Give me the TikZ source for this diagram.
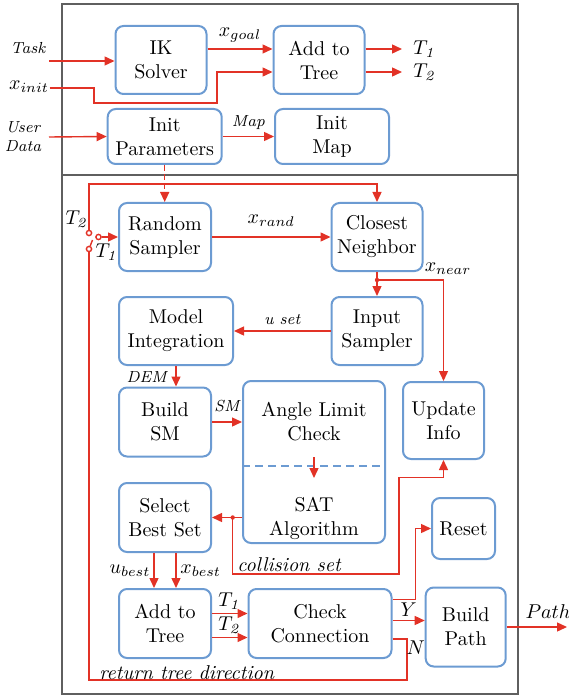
\documentclass[tikz,border=0pt]{standalone}
\usepackage{tikz}
\usetikzlibrary{arrows.meta,positioning}
\definecolor{redline}{RGB}{226,50,38}
\definecolor{boxline}{RGB}{108,155,210}
\definecolor{framegray}{RGB}{95,95,95}
\tikzstyle{block} = [draw=boxline, line width=1pt, rounded corners=4pt, align=center, inner sep=1pt]
\tikzstyle{part} = [rectangle, draw=framegray, line width=0.8pt, minimum width=228pt]
\tikzstyle{wire} = [draw=redline, line width=0.7pt]
\tikzstyle{flow} = [wire, -{Triangle[length=5pt,width=4.5pt]}]
\tikzstyle{tag} = [inner sep=0pt, font=\footnotesize\itshape]
\tikzstyle{lbl} = [inner sep=0pt]
\tikzstyle{contact} = [circle, draw=redline, line width=0.7pt, fill=white, inner sep=0pt, minimum size=2.6pt]

\begin{document}
\begin{tikzpicture}[x=0.5pt,y=-0.5pt]
\useasboundingbox (0,0) rectangle (568,695);
\node[part, minimum height=85.5pt] (initpart) at (290,89.5) {};
\node[part, minimum height=259.5pt] (looppart) at (290,434.5) {};

% initialisation
\node[block, minimum width=45.5pt, minimum height=34pt] (ik) at (161,60) {IK\\Solver};
\node[block, minimum width=45.5pt, minimum height=34pt] (addinit) at (319,60) {Add to\\Tree};
\node[block, minimum width=57pt, minimum height=27.5pt] (initpar) at (164.7,136.5) {Init\\Parameters};
\node[block, minimum width=57pt, minimum height=27.5pt] (initmap) at (332,136.5) {Init\\Map};

\node[tag] (task) at (28,48) {Task};
\coordinate (taskin) at (49,61);
\draw[flow] (taskin) -- (ik.west |- taskin);
\node[lbl] (xinit) at (29,87) {$x_{init}$};
\coordinate (xinitin) at (49.6,88);
\coordinate (xinitA) at (94,103);
\coordinate (xinitB) at (217,72);
\draw[flow] (xinitin) -| (xinitA) -| (xinitB) -- (addinit.west |- xinitB);
\node[tag, align=center] (userdata) at (23,137) {User\\Data};
\coordinate (userin) at (49,137);
\draw[flow] (userin) -- (initpar.west);

\draw[flow] ([yshift=5.5pt]ik.east) -- ([yshift=5.5pt]addinit.west) node[lbl, midway, above=3pt] (xgoal) {$x_{goal}$};
\coordinate (tendone) at (402,49);
\coordinate (tendtwo) at (402,72);
\node[lbl, right=5.5pt of tendone] (toutone) {$T_{\mathit{1}}$};
\node[lbl, right=5.5pt of tendtwo] (touttwo) {$T_{\mathit{2}}$};
\draw[flow] ([yshift=5.5pt]addinit.east) -- (tendone);
\draw[flow] ([yshift=-6pt]addinit.east) -- (tendtwo);
\draw[flow] (initpar.east) -- (initmap.west) node[tag, midway, above=3pt] (maplbl) {Map};

% planning loop
\node[block, minimum width=46pt, minimum height=34pt] (rand) at (165,237) {Random\\Sampler};
\node[block, minimum width=45.5pt, minimum height=34pt] (closest) at (377,237) {Closest\\Neighbor};
\node[block, minimum width=57pt, minimum height=34pt] (model) at (176,331) {Model\\Integration};
\node[block, minimum width=45.5pt, minimum height=34pt] (input) at (377,331) {Input\\Sampler};
\node[block, minimum width=46pt, minimum height=34.5pt] (buildsm) at (165,422) {Build\\SM};
\node[block, minimum width=71pt, minimum height=81pt] (satbox) at (314,462) {};
\node[align=center] (anglelim) at (314,422) {Angle Limit\\Check};
\node[align=center] (satalg) at (314,518) {SAT\\Algorithm};
\node[block, minimum width=40.5pt, minimum height=38.5pt] (update) at (443.5,420.5) {Update\\Info};
\node[block, minimum width=46pt, minimum height=34.5pt] (select) at (165,517.5) {Select\\Best Set};
\node[block, minimum width=31.5pt, minimum height=30.5pt] (reset) at (463.5,528.5) {Reset};
\node[block, minimum width=46pt, minimum height=34.5pt] (addtree) at (165,623.5) {Add to\\Tree};
\node[block, minimum width=71.5pt, minimum height=34.5pt] (conn) at (320,623.5) {Check\\Connection};
\node[block, minimum width=40pt, minimum height=39.5pt] (buildpath) at (465.7,627) {Build\\Path};

\coordinate (dashy) at (314,466);
\draw[draw=boxline, line width=0.8pt, dash pattern=on 4pt off 2.5pt] (satbox.west |- dashy) -- (satbox.east |- dashy);
\coordinate (chkout) at (314,457);
\coordinate (satin) at (314,478);
\draw[flow] (chkout) -- (satin);

\draw[flow, dash pattern=on 3pt off 1.5pt] (initpar.south) -- (initpar.south |- rand.north);

% tree switch
\node[contact] (swtwo) at (89,233) {};
\node[contact] (swone) at (98.5,237) {};
\node[contact] (swpivot) at (89,249) {};
\coordinate (blade) at (92.5,240);
\draw[wire] (swpivot) -- (blade);
\node[lbl] (swlbltwo) at (77,219) {$T_{\mathit{2}}$};
\node[lbl] (swlblone) at (107,252) {$T_{\mathit{1}}$};
\draw[flow] (swone) -- (rand.west);
\coordinate (looptop) at (89,184);
\draw[flow] (swtwo) -- (looptop) -| (closest.north);

\draw[flow] (rand.east) -- (closest.west) node[lbl, midway, above=5pt] (xrand) {$x_{rand}$};
\draw[flow] (closest.south) -- (input.north);
\coordinate (nearpt) at (377,280);
\fill[redline] (nearpt) circle (1.1pt);
\draw[flow] (nearpt) -| (update.north);
\node[lbl] (xnear) at (448,269) {$x_{near}$};

\draw[flow] (input.west) -- (model.east) node[tag, midway, above=3pt] (uset) {u set};
\draw[flow] (model.south) -- (model.south |- buildsm.north);
\node[tag] (dem) at (146.7,376.7) {DEM};
\draw[flow] (buildsm.east) -- (satbox.west |- buildsm.east) node[tag, midway, above=4.5pt] (smlbl) {SM};

\draw[flow] (satbox.west |- select.east) -- (select.east);
\coordinate (colpt) at (232.7,517.5);
\fill[redline] (colpt) circle (1.1pt);
\coordinate (colB) at (399,574);
\coordinate (colC) at (399,477.5);
\draw[flow] (colpt) |- (colB) -- (colC) -| (update.south);
\node[lbl, font=\itshape] (collision) at (289,565) {collision set};

\draw[flow] ([xshift=-5.5pt]select.south) -- ([xshift=-5.5pt]addtree.north);
\draw[flow] ([xshift=5.5pt]select.south) -- ([xshift=5.5pt]addtree.north);
\node[lbl] (ubest) at (130,571) {$u_{best}$};
\node[lbl] (xbest) at (200.7,571) {$x_{best}$};

\draw[flow] ([yshift=5pt]addtree.east) -- ([yshift=5pt]conn.west) node[lbl, midway, above=1.5pt] (conlblone) {$T_{\mathit{1}}$};
\draw[flow] ([yshift=-7pt]addtree.east) -- ([yshift=-7pt]conn.west) node[lbl, midway, above=1.5pt] (conlbltwo) {$T_{\mathit{2}}$};

\coordinate (rsturn) at (415.5,528.5);
\draw[flow] ([yshift=12pt]conn.east) -| (rsturn) -- (reset.west);
\coordinate (yout) at ([yshift=1.5pt]conn.east);
\draw[flow] (yout) -- (yout -| buildpath.west) node[lbl, midway, above=1.5pt] (ylbl) {$Y$};
\coordinate (retA) at (407,680);
\draw[wire] ([yshift=-7.75pt]conn.east) -| (retA) -| (swpivot.south);
\node[lbl] (nlbl) at (415.7,647.7) {$N$};
\node[lbl, font=\itshape] (retlbl) at (186.7,673) {return tree direction};

\coordinate (pathend) at (567,627);
\draw[flow] (buildpath.east) -- (pathend);
\node[lbl] (pathlbl) at (548,612) {$Path$};
\end{tikzpicture}
\end{document}
